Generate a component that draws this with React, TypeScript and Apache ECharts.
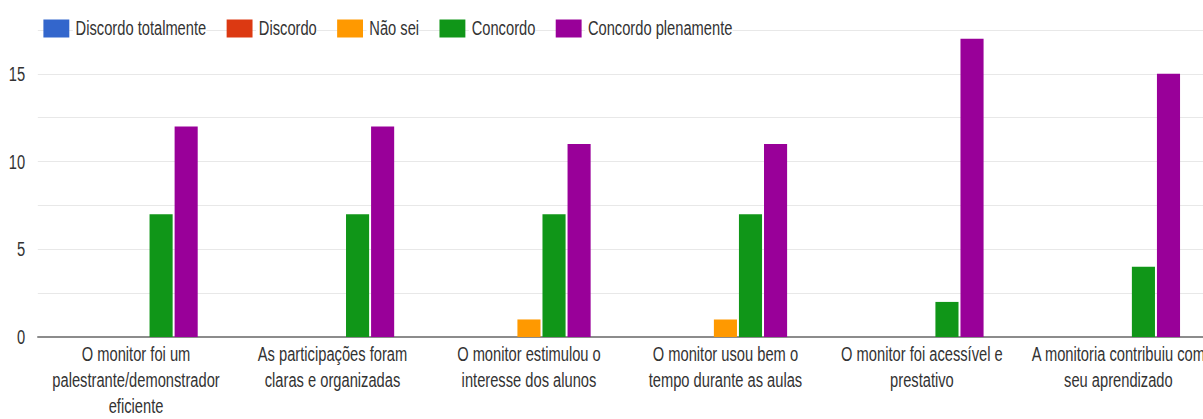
import React, { useEffect, useRef } from "react";
import * as echarts from "echarts";

const categories = [
  "O monitor foi um\npalestrante/demonstrador\neficiente",
  "As participações foram\nclaras e organizadas",
  "O monitor estimulou o\ninteresse dos alunos",
  "O monitor usou bem o\ntempo durante as aulas",
  "O monitor foi acessível e\nprestativo",
  "A monitoria contribuiu com\nseu aprendizado",
];

const seriesNames = ["Discordo totalmente", "Discordo", "Não sei", "Concordo", "Concordo plenamente"];
const seriesColors = ["#3366cc", "#dc3912", "#ff9900", "#109618", "#990099"];

const discordoTotalmente = [0, 0, 0, 0, 0, 0];
const discordo = [0, 0, 0, 0, 0, 0];
const naoSei = [0, 0, 1, 1, 0, 0];
const concordo = [7, 7, 7, 7, 2, 4];
const concordoPlenamente = [12, 12, 11, 11, 17, 15];

const seriesValues = [discordoTotalmente, discordo, naoSei, concordo, concordoPlenamente];

const FONT = "'Liberation Sans', Arial, Helvetica, sans-serif";
// the reference picture is horizontally compressed; draw wide and squeeze
const SQUEEZE = 0.7;
const INNER_W = 1740;

export default function App() {
  const ref = useRef<HTMLDivElement>(null);
  useEffect(() => {
    if (!ref.current) return;
    const chart = echarts.init(ref.current, undefined, { renderer: "svg" });
    chart.setOption({
      animation: false,
      backgroundColor: "#ffffff",
      textStyle: { fontFamily: FONT },
      legend: {
        left: 57,
        top: 13,
        itemWidth: 37,
        itemHeight: 18,
        itemGap: 29,
        icon: "rect",
        selectedMode: false,
        textStyle: {
          fontFamily: FONT,
          fontSize: 21,
          color: "#333",
          backgroundColor: "#fff",
          padding: [0, 0, 0, 4],
        },
        data: seriesNames,
      },
      grid: { left: 54, right: 2, top: 30, bottom: 81, containLabel: false },
      xAxis: {
        type: "category",
        data: categories,
        axisLine: { show: true, lineStyle: { color: "#8c8c8c", width: 2 } },
        axisTick: { show: false },
        axisLabel: {
          interval: 0,
          margin: 4,
          fontFamily: FONT,
          fontSize: 21,
          lineHeight: 26,
          color: "#333",
        },
        splitLine: { show: false },
      },
      yAxis: {
        type: "value",
        min: 0,
        max: 17.5,
        interval: 2.5,
        axisLine: { show: false },
        axisTick: { show: false },
        axisLabel: {
          margin: 18,
          fontFamily: FONT,
          fontSize: 21,
          color: "#333",
          formatter: (v: number) => (v % 5 === 0 ? String(v) : ""),
        },
        splitLine: { show: true, lineStyle: { color: "#e4e4e4", width: 1 } },
      },
      series: seriesNames.map((name, i) => ({
        name,
        type: "bar",
        data: seriesValues[i],
        barWidth: 33,
        barGap: "8.5%",
        itemStyle: { color: seriesColors[i] },
      })),
    });
    return () => chart.dispose();
  }, []);
  return (
    <div style={{ position: "absolute", left: 0, top: 0, width: 1203, height: 419, overflow: "hidden", background: "#fff" }}>
      <div
        ref={ref}
        style={{ width: INNER_W, height: 419, transform: `scaleX(${SQUEEZE})`, transformOrigin: "0 0" }}
      />
    </div>
  );
}
